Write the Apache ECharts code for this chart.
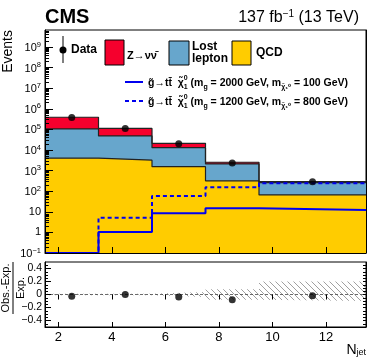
<!DOCTYPE html>
<html lang="en">
<head>
<meta charset="UTF-8">
<title>Njet</title>
<script src="https://cdn.jsdelivr.net/npm/echarts@6/dist/echarts.min.js"></script>
<style>html,body{margin:0;padding:0;background:#fff;}</style>
</head>
<body>
<div id="main" style="width:374px;height:363px;"></div>
<script type="text/javascript">
// bins in Njet: 2-3, 4-5, 6-7, 8-9, >=10
var binEdges = [1.5, 3.5, 5.5, 7.5, 9.5, 13.5];
var binCenters = [2.5, 4.5, 6.5, 8.5, 11.5];
// background predictions (events per bin)
var qcd = [4000, 3200, 1550, 320, 66];
var lostLepton = [101000, 45000, 11400, 1800, 194];
var zinv = [285000, 64000, 8100, 430, 30];
// observed
var dataObs = [380000, 112000, 20200, 2350, 284];
// signal models
var sig2000 = [0.1, 1.05, 8.5, 14.8, 12.3];
var sig1200 = [0.1, 5.2, 59, 155, 240];
// ratio panel
var ratioObs = [-0.025, 0.0, -0.04, -0.08, -0.02];
var uncUp = [0.01, 0.01, 0.04, 0.08, 0.2];
var uncDown = [0.01, 0.01, 0.04, 0.08, 0.1];
var xTicks = [2, 4, 6, 8, 10, 12];
var logTicks = [0.1, 1, 10, 1e2, 1e3, 1e4, 1e5, 1e6, 1e7, 1e8, 1e9];
var ratioTicks = [-0.4, -0.2, 0, 0.2, 0.4];

var FONT = "'Liberation Sans', Arial, 'DejaVu Sans', sans-serif";
var myChart = echarts.init(document.getElementById('main'));

function histPoints(vals) {
    var pts = [];
    for (var i = 0; i < vals.length; i++) pts.push([binEdges[i], vals[i]]);
    pts.push([binEdges[vals.length], vals[vals.length - 1]]);
    return pts;
}
var stackQcd = qcd.slice();
var stackLost = qcd.map(function (v, i) { return v + lostLepton[i]; });
var stackZ = stackLost.map(function (v, i) { return v + zinv[i]; });

// hatch pattern for the uncertainty band
var hatch = document.createElement('canvas');
hatch.width = 6; hatch.height = 6;
var hc = hatch.getContext('2d');
hc.strokeStyle = '#a0a0a0'; hc.lineWidth = 1;
hc.beginPath();
hc.moveTo(0, 0); hc.lineTo(6, 6);
hc.moveTo(-3, 3); hc.lineTo(3, 9);
hc.moveTo(3, -3); hc.lineTo(9, 3);
hc.stroke();

var yMax = 6.7e9;
var logMinor = [];
for (var e = -1; e < 10; e++) {
    for (var m = 2; m < 10; m++) {
        var v = m * Math.pow(10, e);
        if (v < yMax) logMinor.push(v);
    }
}
var ratioMinor = [-0.45, -0.35, -0.3, -0.25, -0.15, -0.1, -0.05, 0.05, 0.1, 0.15, 0.25, 0.3, 0.35, 0.45];

function logLabel(v) {
    var l = Math.log10(v);
    var k = Math.round(l);
    if (Math.abs(l - k) > 0.01) return '';
    if (k === 0) return '{b|1}';
    if (k === 1) return '{b|10}';
    return '{b|10}{s|' + (k < 0 ? '\u2212' + (-k) : k) + '}';
}

var sigRich = {
    n: {fontSize: 10.5, fontWeight: 'bold', fontFamily: FONT, lineHeight: 16, verticalAlign: 'middle', fill: '#000'},
    sub: {fontSize: 7, fontWeight: 'bold', fontFamily: FONT, verticalAlign: 'bottom', fill: '#000'},
    sup: {fontSize: 7, fontWeight: 'bold', fontFamily: FONT, verticalAlign: 'top', fill: '#000', width: 0}
};
function sigText(mg, mchi) {
    return '{n|g\u0303\u2192tt\u0304  \u03c7\u0303}{sup|0}{sub|1}{n| (m}{sub|g\u0303}{n| = ' + mg +
        ' GeV, m}{sub|\u03c7\u0303}{sub|\u2081\u2070}{n| = ' + mchi + ' GeV)}';
}

var option = {
    animation: false,
    textStyle: {fontFamily: FONT},
    grid: [
        {left: 45, right: 8, top: 30, height: 223, show: true, borderColor: '#000', borderWidth: 1},
        {left: 45, right: 8, top: 262, height: 65, show: true, borderColor: '#000', borderWidth: 1}
    ],
    xAxis: [
        {type: 'value', gridIndex: 0, min: 1.5, max: 13.5, z: 5,
            axisLine: {show: true, onZero: false, lineStyle: {color: '#000', width: 1}},
            axisTick: {show: true, inside: true, length: 6, customValues: xTicks, lineStyle: {color: '#000'}},
            axisLabel: {show: false}, splitLine: {show: false}},
        {type: 'value', gridIndex: 1, min: 1.5, max: 13.5, z: 5,
            axisLine: {show: true, onZero: false, lineStyle: {color: '#000', width: 1}},
            axisTick: {show: true, inside: true, length: 5, customValues: xTicks, lineStyle: {color: '#000'}},
            axisLabel: {show: true, customValues: xTicks, fontSize: 13, color: '#000', margin: 4, fontFamily: FONT},
            splitLine: {show: false}},
        {type: 'value', gridIndex: 1, min: 1.5, max: 13.5, position: 'top', z: 5,
            axisLine: {show: false},
            axisTick: {show: true, inside: true, length: 5, customValues: xTicks, lineStyle: {color: '#000'}},
            axisLabel: {show: false}, splitLine: {show: false}}
    ],
    yAxis: [
        {type: 'log', logBase: 10, gridIndex: 0, min: 0.1, max: yMax, z: 5,
            axisLine: {show: true, lineStyle: {color: '#000', width: 1}},
            axisTick: {show: true, inside: true, length: 8, customValues: logTicks, lineStyle: {color: '#000'}},
            axisLabel: {show: true, customValues: logTicks, color: '#000', margin: 4, formatter: logLabel,
                rich: {
                    b: {fontSize: 11, fontFamily: FONT, color: '#000', verticalAlign: 'bottom'},
                    s: {fontSize: 7.5, fontFamily: FONT, color: '#000', verticalAlign: 'bottom', padding: [0, 0, 5, 0]}
                }},
            splitLine: {show: false}},
        {type: 'log', logBase: 10, gridIndex: 0, min: 0.1, max: yMax, position: 'left', z: 5,
            axisLine: {show: false},
            axisTick: {show: true, inside: true, length: 4, customValues: logMinor, lineStyle: {color: '#000'}},
            axisLabel: {show: false}, splitLine: {show: false}},
        {type: 'log', logBase: 10, gridIndex: 0, min: 0.1, max: yMax, position: 'right', z: 5,
            axisLine: {show: true, lineStyle: {color: '#000', width: 1}},
            axisTick: {show: false}, axisLabel: {show: false}, splitLine: {show: false}},
        {type: 'value', gridIndex: 1, min: -0.5, max: 0.5, z: 5,
            axisLine: {show: true, onZero: false, lineStyle: {color: '#000', width: 1}},
            axisTick: {show: true, inside: true, length: 6, customValues: ratioTicks, lineStyle: {color: '#000'}},
            axisLabel: {show: true, customValues: ratioTicks, fontSize: 10.5, color: '#000', margin: 3,
                formatter: function (v) { return v === 0 ? '0' : (v < 0 ? '\u2212' + (-v).toFixed(1) : v.toFixed(1)); }},
            splitLine: {show: false}},
        {type: 'value', gridIndex: 1, min: -0.5, max: 0.5, position: 'left', z: 5,
            axisLine: {show: false},
            axisTick: {show: true, inside: true, length: 3, customValues: ratioMinor, lineStyle: {color: '#000'}},
            axisLabel: {show: false}, splitLine: {show: false}},
        {type: 'value', gridIndex: 1, min: -0.5, max: 0.5, position: 'right', z: 5,
            axisLine: {show: true, onZero: false, lineStyle: {color: '#000', width: 1}},
            axisTick: {show: true, inside: true, length: 3, customValues: ratioMinor.concat(ratioTicks), lineStyle: {color: '#000'}},
            axisLabel: {show: false}, splitLine: {show: false}}
    ],
    series: [
        {name: 'Z', type: 'line', xAxisIndex: 0, yAxisIndex: 0, step: 'end', symbol: 'none',
            data: histPoints(stackZ),
            lineStyle: {color: '#222', width: 1.2},
            areaStyle: {color: '#f5002d', opacity: 1, origin: 'start'}},
        {name: 'Lost lepton', type: 'line', xAxisIndex: 0, yAxisIndex: 0, step: 'end', symbol: 'none',
            data: histPoints(stackLost),
            lineStyle: {color: '#222', width: 1.2},
            areaStyle: {color: '#67a6cc', opacity: 1, origin: 'start'}},
        {name: 'QCD', type: 'line', xAxisIndex: 0, yAxisIndex: 0, step: 'end', symbol: 'none',
            data: histPoints(stackQcd),
            lineStyle: {color: '#222', width: 1.2},
            areaStyle: {color: '#ffcc00', opacity: 1, origin: 'start'}},
        {name: 'sig1200', type: 'line', xAxisIndex: 0, yAxisIndex: 0, step: 'end', symbol: 'none',
            data: histPoints(sig1200),
            lineStyle: {color: '#0000ee', width: 2, type: [4, 3]}},
        {name: 'sig2000', type: 'line', xAxisIndex: 0, yAxisIndex: 0, step: 'end', symbol: 'none',
            data: histPoints(sig2000),
            lineStyle: {color: '#0000ee', width: 2}},
        {name: 'Data', type: 'scatter', xAxisIndex: 0, yAxisIndex: 0, symbolSize: 7, z: 6,
            itemStyle: {color: '#000'},
            data: binCenters.map(function (x, i) { return [x, dataObs[i]]; })},
        // ratio panel
        {name: 'uncUp', type: 'line', xAxisIndex: 1, yAxisIndex: 3, step: 'end', symbol: 'none',
            data: histPoints(uncUp), lineStyle: {width: 0},
            areaStyle: {color: {image: hatch, repeat: 'repeat'}, opacity: 1}},
        {name: 'uncDown', type: 'line', xAxisIndex: 1, yAxisIndex: 3, step: 'end', symbol: 'none',
            data: histPoints(uncDown.map(function (v) { return -v; })), lineStyle: {width: 0},
            areaStyle: {color: {image: hatch, repeat: 'repeat'}, opacity: 1}},
        {name: 'zero', type: 'line', xAxisIndex: 1, yAxisIndex: 3, symbol: 'none',
            data: [[1.5, 0], [13.5, 0]],
            lineStyle: {color: '#444', width: 0.8, type: [3, 2]}},
        {name: 'Ratio', type: 'scatter', xAxisIndex: 1, yAxisIndex: 3, symbolSize: 7, z: 6,
            itemStyle: {color: '#000'},
            data: binCenters.map(function (x, i) { return [x, ratioObs[i]]; })}
    ],
    graphic: [
        {type: 'text', left: 45, top: 7, style: {text: 'CMS', font: 'bold 20px ' + FONT, fill: '#000'}},
        {type: 'text', right: 15, top: 9, style: {
            text: '{n|137 fb}{s|\u22121}{n| (13 TeV)}',
            rich: {
                n: {fontSize: 16, fontFamily: FONT, fill: '#000', verticalAlign: 'bottom'},
                s: {fontSize: 10, fontFamily: FONT, fill: '#000', verticalAlign: 'bottom', padding: [0, 0, 7, 0]}
            }}},
        {type: 'text', x: 8, y: 30, rotation: Math.PI / 2, style: {
            text: 'Events', font: '14px ' + FONT, fill: '#000', align: 'right', verticalAlign: 'middle'}},
        {type: 'text', right: 8, top: 343, style: {
            text: '{n|N}{s|jet}',
            rich: {
                n: {fontSize: 14, fontFamily: FONT, fill: '#000', verticalAlign: 'top'},
                s: {fontSize: 9, fontFamily: FONT, fill: '#000', verticalAlign: 'bottom', padding: [0, 0, 0, 0]}
            }}},
        // ratio axis title
        {type: 'group', x: 13, y: 288, rotation: Math.PI / 2, children: [
            {type: 'text', x: 0, y: -2, style: {text: 'Obs.-Exp.', font: '11px ' + FONT, fill: '#000', align: 'center', verticalAlign: 'bottom'}},
            {type: 'line', shape: {x1: -26, y1: 0, x2: 26, y2: 0}, style: {stroke: '#000', lineWidth: 1}},
            {type: 'text', x: 0, y: 2, style: {text: 'Exp.', font: '11px ' + FONT, fill: '#000', align: 'center', verticalAlign: 'top'}}
        ]},
        // legend
        {type: 'line', shape: {x1: 63, y1: 36, x2: 63, y2: 63}, style: {stroke: '#000', lineWidth: 1}},
        {type: 'circle', shape: {cx: 63, cy: 50, r: 3.5}, style: {fill: '#000'}},
        {type: 'text', x: 71, y: 50, style: {text: 'Data', font: 'bold 12px ' + FONT, fill: '#000', verticalAlign: 'middle'}},
        {type: 'rect', shape: {x: 105, y: 40, width: 19, height: 25}, style: {fill: '#f5002d', stroke: '#000', lineWidth: 1}},
        {type: 'text', x: 127, y: 56, style: {text: 'Z\u2192\u03bd\u03bd\u0304', font: 'bold 11px ' + FONT, fill: '#000', verticalAlign: 'middle'}},
        {type: 'rect', shape: {x: 169, y: 41, width: 20, height: 24}, style: {fill: '#67a6cc', stroke: '#000', lineWidth: 1}},
        {type: 'text', x: 192, y: 47, style: {text: 'Lost', font: 'bold 12px ' + FONT, fill: '#000', verticalAlign: 'middle'}},
        {type: 'text', x: 192, y: 59, style: {text: 'lepton', font: 'bold 12px ' + FONT, fill: '#000', verticalAlign: 'middle'}},
        {type: 'rect', shape: {x: 232, y: 41, width: 19, height: 24}, style: {fill: '#ffcc00', stroke: '#000', lineWidth: 1}},
        {type: 'text', x: 256, y: 53, style: {text: 'QCD', font: 'bold 12px ' + FONT, fill: '#000', verticalAlign: 'middle'}},
        {type: 'line', shape: {x1: 125, y1: 82, x2: 143, y2: 82}, style: {stroke: '#0000ee', lineWidth: 2}},
        {type: 'line', shape: {x1: 125, y1: 101, x2: 143, y2: 101}, style: {stroke: '#0000ee', lineWidth: 2, lineDash: [4, 3]}},
        {type: 'text', x: 148, y: 83, style: {text: sigText(2000, 100), rich: sigRich, verticalAlign: 'middle'}},
        {type: 'text', x: 148, y: 102, style: {text: sigText(1200, 800), rich: sigRich, verticalAlign: 'middle'}}
    ]
};
myChart.setOption(option);
</script>
</body>
</html>
